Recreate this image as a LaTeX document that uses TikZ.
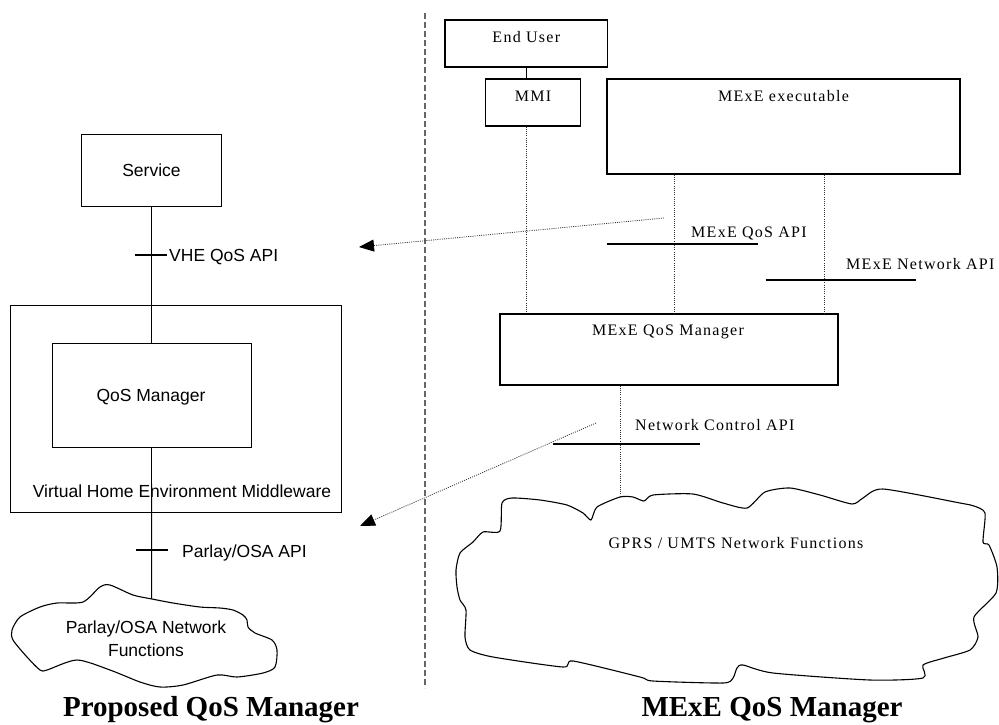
\documentclass[tikz,border=0pt]{standalone}
\usepackage{fontspec}
\setmainfont{Liberation Serif}
\newfontfamily\arialfont{Liberation Sans}
\newfontfamily\spacedfont{Liberation Serif}[LetterSpace=8]
\usetikzlibrary{arrows.meta}

\begin{document}
\begin{tikzpicture}[x=1pt, y=-1pt,
        lbox/.style={draw, line width=0.9pt, inner sep=0pt},
        rbox/.style={draw, line width=1.2pt, inner sep=0pt},
        ltext/.style={font=\arialfont\fontsize{17.5}{20}\selectfont, inner sep=0pt, anchor=base},
        rtext/.style={font=\spacedfont\fontsize{16}{19}\selectfont, inner sep=0pt, anchor=base},
        title/.style={font=\bfseries\fontsize{29}{34}\selectfont, inner sep=0pt, anchor=base},
        link/.style={line width=0.9pt},
        dots/.style={line width=0.8pt, black!80, dash pattern=on 1pt off 1.2pt},
        ptr/.style={dots, -{Triangle[length=15pt, width=12pt, color=black]}},
        underl/.style={line width=1.1pt},
        divider/.style={line width=1.6pt, black!60, dash pattern=on 6pt off 3pt},
        netcloud/.style={line width=1.1pt, line join=round}
    ]
        \useasboundingbox (0,0) rectangle (999,724);

        % Trennlinie
        \coordinate (divtop) at (425,13);
        \coordinate (divbot) at (425,688);
        \draw[divider] (divtop) -- (divbot);

        % Linke Seite
        \node[lbox, minimum width=140, minimum height=72] (service) at (151,170) {};
        \node[ltext] (servicetxt) at (151.5,176.5) {Service};
        \node[lbox, minimum width=331, minimum height=207] (vhe) at (175.5,408.5) {};
        \node[lbox, minimum width=199, minimum height=104] (qos) at (151.5,395) {};
        \node[ltext] (qostxt) at (151,401) {QoS Manager};
        \node[ltext] (vhetxt) at (182,497) {Virtual Home Environment Middleware};

        \draw[link] (service.south) -- (service.south |- qos.north);
        \draw[underl] (135,255) -- (167,255);
        \node[ltext, anchor=base west] (vheapi) at (169,261.5) {VHE QoS API};

        \coordinate (ptop) at (151.7,599);
        \draw[link] (qos.south) -- (ptop);
        \draw[underl] (136,550) -- (168,550);
        \node[ltext, anchor=base west] (parlayapi) at (182,557) {Parlay/OSA API};

        % Parlay-Wolke
        \draw[netcloud] plot[smooth cycle, tension=0.45] coordinates {
            (152,599) (173,603) (200,607) (220,608) (233,610) (243,615) (247,620)
            (248,627) (255,633) (272,640) (277,650) (275,667) (263,673) (237,677)
            (217,675) (183,685) (160,687) (140,682) (110,670) (77,660) (47,670)
            (40,670) (27,657) (13,640) (12,630) (20,617) (40,607) (57,603)
            (83,602) (100,587) (110,585) (133,595)};
        \node[ltext] (parlaytxt) at (146,633) {Parlay/OSA Network};
        \node[ltext] (parlaytxtb) at (146,656) {Functions};

        % Rechte Seite
        \node[rbox, minimum width=162.6, minimum height=47] (user) at (526.3,43.5) {};
        \node[rtext] (usertxt) at (526.3,42) {End User};
        \node[rbox, minimum width=95, minimum height=47] (mmi) at (533,102.5) {};
        \node[rtext] (mmitxt) at (533,101.5) {MMI};
        \node[rbox, minimum width=353, minimum height=95] (exe) at (783.5,126.5) {};
        \node[rtext] (exetxt) at (783.5,101.5) {MExE executable};
        \node[rbox, minimum width=338, minimum height=71] (mgr) at (669,349.5) {};
        \node[rtext] (mgrtxt) at (668,335.5) {MExE QoS Manager};

        \draw[link] (user.south) -- (user.south |- mmi.north);
        \draw[dots] (user.south |- mmi.south) -- (user.south |- mgr.north);
        \coordinate (qa) at (674.8,0);
        \coordinate (qb) at (824,0);
        \draw[dots] (qa |- exe.south) -- (qa |- mgr.north);
        \draw[dots] (qb |- exe.south) -- (qb |- mgr.north);

        \node[rtext, anchor=base west] (mexeqos) at (691,237) {MExE QoS API};
        \draw[underl] (607,244) -- (758,244);
        \node[rtext, anchor=base west] (mexenet) at (846,269) {MExE Network API};
        \draw[underl] (765.6,280) -- (915.6,280);

        \coordinate (gtop) at (620.5,497);
        \draw[dots] (gtop |- mgr.south) -- (gtop);
        \node[rtext, anchor=base west] (netctl) at (635,430) {Network Control API};
        \draw[underl] (553,444) -- (699.5,444);

        % GPRS-Wolke
        \draw[netcloud] plot[smooth cycle, tension=0.4] coordinates {
            (456,570) (460,553) (473,542) (483,532) (500,531) (502,503) (512,498)
            (540,500) (567,505) (583,513) (591,520) (597,507) (620,497) (633,497)
            (644,501) (653,495) (693,494) (723,503) (747,508) (765,492) (790,488)
            (820,495) (852,504) (863,498) (883,489) (960,503) (974,506) (985,513)
            (983,542) (989,545) (997,567) (996,593) (974,617) (978,637) (970,650)
            (944,658) (923,665) (923,678) (870,680) (773,673) (743,665) (737,668)
            (733,678) (723,683) (653,681) (640,677) (573,661) (563,667) (493,657)
            (470,650) (465,637) (466,610) (460,600) (457,587)};
        \node[rtext] (gprstxt) at (736,548) {GPRS / UMTS Network Functions};

        % Pfeile
        \coordinate (qosfrom) at (664,218);
        \coordinate (qosto) at (359,247);
        \draw[ptr] (qosfrom) -- (qosto);
        \coordinate (netfrom) at (596,423);
        \coordinate (netto) at (360,526);
        \draw[ptr] (netfrom) -- (netto);

        % Titel
        \node[title] (lefttitle) at (211,716) {Proposed QoS Manager};
        \node[title] (righttitle) at (772,716) {MExE QoS Manager};
\end{tikzpicture}
\end{document}
